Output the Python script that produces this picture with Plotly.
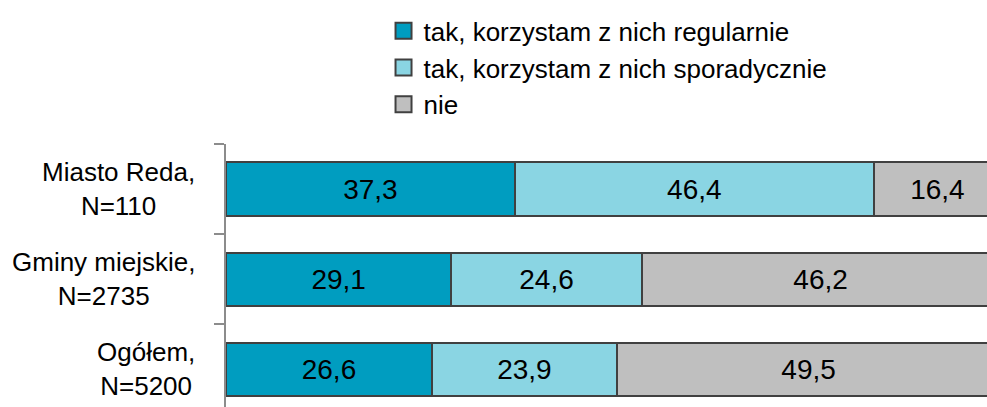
import plotly.graph_objects as go

# Survey answers: share of respondents (%) by area
categories = ["Miasto Reda, N=110", "Gminy miejskie, N=2735", "Ogółem, N=5200"]
category_lines = ["Miasto Reda,<br>N=110", "Gminy miejskie,<br>N=2735", "Ogółem,<br>N=5200"]
series_names = [
    "tak, korzystam z nich regularnie",
    "tak, korzystam z nich sporadycznie",
    "nie",
]
regularnie = [37.3, 29.1, 26.6]
sporadycznie = [46.4, 24.6, 23.9]
nie = [16.4, 46.2, 49.5]

colors = ["#009DC0", "#8AD5E3", "#BFBFBF"]
outline = "#404040"
axis_grey = "#8C8C8C"
base_font = "Liberation Sans, Arial, sans-serif"

fig = go.Figure()

for name, values, color in zip(series_names, [regularnie, sporadycznie, nie], colors):
    fig.add_trace(go.Bar(
        y=categories,
        x=values,
        name=name,
        orientation="h",
        legendgroup=name,
        showlegend=False,
        marker=dict(color=color, line=dict(color=outline, width=2)),
        texttemplate="%{x:.1f}",
        textposition="inside",
        insidetextanchor="middle",
        textangle=0,
        textfont=dict(family=base_font, size=28, color="#000000"),
        hoverinfo="skip",
    ))
    # legend entry with a larger square swatch
    fig.add_trace(go.Scatter(
        x=[None], y=[None],
        mode="markers",
        name=name,
        legendgroup=name,
        marker=dict(symbol="square", size=18, color=color,
                    line=dict(color=outline, width=2)),
    ))

# two-line, centred category labels beside the axis
for cat, text in zip(categories, category_lines):
    fig.add_annotation(
        x=0, xref="paper", xanchor="right", xshift=-29,
        y=cat, yref="y", yanchor="middle",
        text=text, align="center", showarrow=False,
        font=dict(family=base_font, size=26, color="#000000"),
    )

fig.update_layout(
    width=987, height=407,
    margin=dict(l=226, r=0, t=144, b=0, pad=0),
    paper_bgcolor="white", plot_bgcolor="white",
    barmode="stack",
    bargap=0.41,
    separators=", ",
    font=dict(family=base_font, color="#000000"),
    legend=dict(
        x=0.207, xanchor="left",
        y=1.52, yanchor="top",
        font=dict(family=base_font, size=26, color="#000000"),
        bgcolor="rgba(0,0,0,0)",
        tracegroupgap=0,
        itemsizing="trace",
    ),
    xaxis=dict(visible=False, range=[0, 98.3], fixedrange=True),
    yaxis=dict(
        type="category",
        categoryorder="array", categoryarray=categories,
        range=[2.4167, -0.5],
        showticklabels=False,
        showgrid=False, zeroline=False,
        showline=True, linecolor=axis_grey, linewidth=2,
        ticks="outside", tickson="boundaries", ticklen=10,
        tickcolor=axis_grey, tickwidth=2,
    ),
)

fig.write_html("out.html")
